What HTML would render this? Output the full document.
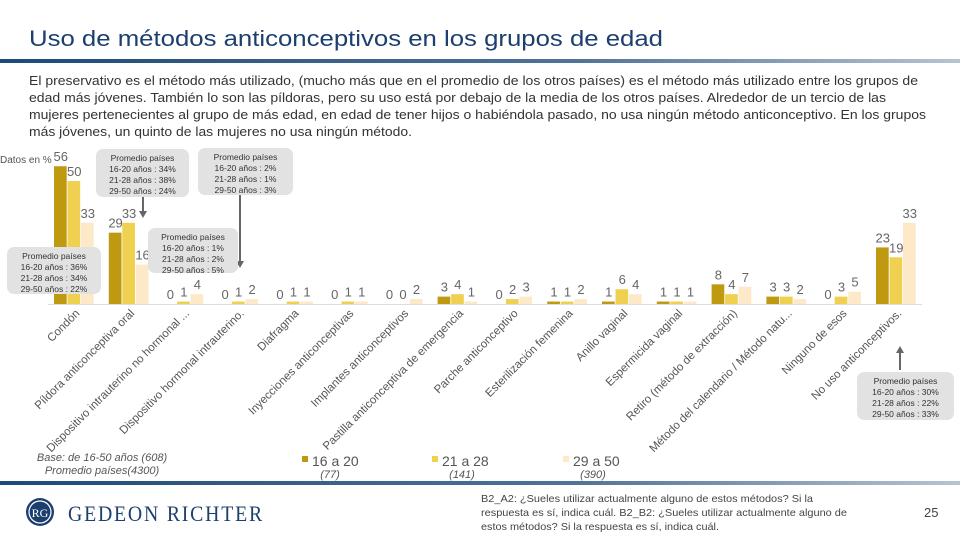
<!DOCTYPE html>
<html><head><meta charset="utf-8"><style>
body{margin:0;width:960px;height:540px;overflow:hidden;background:#fff;font-family:"Liberation Sans",sans-serif}
svg{display:block}
</style></head><body>
<svg id="s" width="960" height="540" viewBox="0 0 960 540">
<defs>
<linearGradient id="g" x1="0" x2="1"><stop offset="0" stop-color="#1d4a78"/><stop offset="0.6" stop-color="#4f7399"/><stop offset="1" stop-color="#b7c3d1"/></linearGradient>
</defs>
<text x="29" y="46" font-size="22" fill="#1c3f6e" textLength="634" lengthAdjust="spacingAndGlyphs">Uso de métodos anticonceptivos en los grupos de edad</text>
<rect x="0" y="59" width="960" height="4" fill="url(#g)"/>
<g font-size="13" fill="#333">
<text x="29" y="85" textLength="889" lengthAdjust="spacingAndGlyphs">El preservativo es el método más utilizado, (mucho más que en el promedio de los otros países) es el método más utilizado entre los grupos de</text>
<text x="29" y="102" textLength="857" lengthAdjust="spacingAndGlyphs">edad más jóvenes. También lo son las píldoras, pero su uso está por debajo de la media de los otros países. Alrededor de un tercio de las</text>
<text x="29" y="119" textLength="897" lengthAdjust="spacingAndGlyphs">mujeres pertenecientes al grupo de más edad, en edad de tener hijos o habiéndola pasado, no usa ningún método anticonceptivo. En los grupos</text>
<text x="29" y="136" textLength="383" lengthAdjust="spacingAndGlyphs">más jóvenes, un quinto de las mujeres no usa ningún método.</text>
</g>
<text x="0" y="163" font-size="10" fill="#555">Datos en %</text>
<g id="chart"></g>
<g id="callouts"></g>
<g font-size="11" font-style="italic" fill="#555" text-anchor="middle">
<text x="102" y="461">Base: de 16-50 años (608)</text>
<text x="102" y="474">Promedio países(4300)</text>
</g>
<g id="legend"></g>
<rect x="0" y="481" width="960" height="4" fill="url(#g)"/>
<g>
<circle cx="40" cy="512" r="14" fill="#1c3f6e"/>
<circle cx="40" cy="512" r="11" fill="none" stroke="#fff" stroke-width="1.2"/>
<text x="40" y="517" font-size="12" fill="#fff" text-anchor="middle" font-family="Liberation Serif,serif">RG</text>
<text x="68" y="521" font-size="22" fill="#1c3f6e" font-family="Liberation Serif,serif" letter-spacing="2" textLength="196" lengthAdjust="spacingAndGlyphs">GEDEON RICHTER</text>
</g>
<g font-size="10.5" fill="#444">
<text x="481" y="502" textLength="332" lengthAdjust="spacingAndGlyphs">B2_A2: ¿Sueles utilizar actualmente alguno de estos métodos? Si la</text>
<text x="481" y="516" textLength="366" lengthAdjust="spacingAndGlyphs">respuesta es sí, indica cuál. B2_B2: ¿Sueles utilizar actualmente alguno de</text>
<text x="481" y="530" textLength="238" lengthAdjust="spacingAndGlyphs">estos métodos? Si la respuesta es sí, indica cuál.</text>
</g>
<text x="924" y="517" font-size="13" fill="#444">25</text>
</svg>
<script>
const categories=["Condón","Píldora anticonceptiva oral","Dispositivo intrauterino no hormonal ...","Dispositivo hormonal intrauterino.","Diafragma","Inyecciones anticonceptivas","Implantes anticonceptivos","Pastilla anticonceptiva de emergencia","Parche anticonceptivo","Esterilización femenina","Anillo vaginal","Espermicida vaginal","Retiro (método de extracción)","Método del calendario / Método natu...","Ninguno de esos","No uso anticonceptivos."];
const series16_20=[56,29,0,0,0,0,0,3,0,1,1,1,8,3,0,23];
const series21_28=[50,33,1,1,1,1,0,4,2,1,6,1,4,3,3,19];
const series29_50=[33,16,4,2,1,1,2,1,3,2,4,1,7,2,5,33];
const seriesNames=["16 a 20","21 a 28","29 a 50"];
const seriesBases=["(77)","(141)","(390)"];
const NS="http://www.w3.org/2000/svg";
const colors=["#bf9a10","#f0d050","#fde9c8"];
const base=304, k=2.46, x0=54, pitch=54.8, bw=13.5;
function y(v){return base-v*k;}
function gx(i){return x0+i*pitch;}
function mk(tag,attrs,parent){const e=document.createElementNS(NS,tag);for(const a in attrs)e.setAttribute(a,attrs[a]);parent.appendChild(e);return e;}
const chart=document.getElementById('chart');
const all=[series16_20,series21_28,series29_50];
const ax=mk('line',{x1:48,x2:922,y1:base+0.5,y2:base+0.5,stroke:'#ddd','stroke-width':1},chart);


categories.forEach((c,i)=>{
  all.forEach((s,j)=>{
    const v=s[i];const x=gx(i)+j*bw;
    const r=mk('rect',{x:x,y:y(v),width:bw-0.8,height:Math.max(v*k,0.0001)*1,fill:colors[j]},chart);
    if(v===0)r.setAttribute('height',0);
    else if(v*k<2)r.setAttribute('height',v*k);
    
    
    const t=mk('text',{x:x+bw/2,y:y(v)-5,'font-size':13,fill:'#666','text-anchor':'middle'},chart);
    t.textContent=v;
    
    
  });
  const cx=gx(i)+1.5*bw+6;
  const lt=mk('text',{x:cx,y:314,'font-size':11.5,fill:'#555','text-anchor':'end',transform:'rotate(-45 '+cx+' 314)'},chart);
  lt.textContent=c;
  
  
});
const callouts=[
 {x:96,y:149,w:93,h:48,l:["16-20 años : 34%","21-28 años : 38%","29-50 años : 24%"],a:[143,197,143,216]},
 {x:198,y:148,w:95,h:47,l:["16-20 años : 2%","21-28 años : 1%","29-50 años : 3%"],a:[240,195,240,266]},
 {x:148,y:228,w:90,h:45,l:["16-20 años : 1%","21-28 años : 2%","29-50 años : 5%"],a:null},
 {x:7,y:247,w:94,h:47,l:["16-20 años : 36%","21-28 años : 34%","29-50 años : 22%"],a:null},
 {x:857,y:372,w:97,h:48,l:["16-20 años : 30%","21-28 años : 22%","29-50 años : 33%"],a:[900,370,900,348]}
];
const cg=document.getElementById('callouts');
callouts.forEach(c=>{
  const g=mk('g',{},cg);
  
  
  mk('rect',{x:c.x,y:c.y,width:c.w,height:c.h,rx:7,fill:'#e2e2e2'},g);
  ["Promedio países"].concat(c.l).forEach((s,i)=>{
    const t=mk('text',{x:c.x+c.w/2,y:c.y+12+i*11,'font-size':8.5,fill:'#333','text-anchor':'middle'},g);t.textContent=s;
  });
  if(c.a){
    mk('line',{x1:c.a[0],y1:c.a[1],x2:c.a[2],y2:c.a[3],stroke:'#666','stroke-width':2},g);
    const d=c.a[3]>c.a[1]?1:-1;
    mk('polygon',{points:(c.a[2]-4)+','+(c.a[3]-5*d)+' '+(c.a[2]+4)+','+(c.a[3]-5*d)+' '+c.a[2]+','+(c.a[3]+2*d),fill:'#666'},g);
  }
});
const lg=document.getElementById('legend');
[302,432,563].forEach((lx,j)=>{
  const g=mk('g',{},lg);
  
  
  mk('rect',{x:lx,y:456,width:6,height:6,fill:colors[j]},g);
  const t=mk('text',{x:lx+10,y:466,'font-size':14,fill:'#555'},g);t.textContent=seriesNames[j];
  const b=mk('text',{x:lx+28+(j?2:0),y:478,'font-size':11,'font-style':'italic',fill:'#555','text-anchor':'middle'},g);b.textContent=seriesBases[j];
});
</script>
</body></html>
